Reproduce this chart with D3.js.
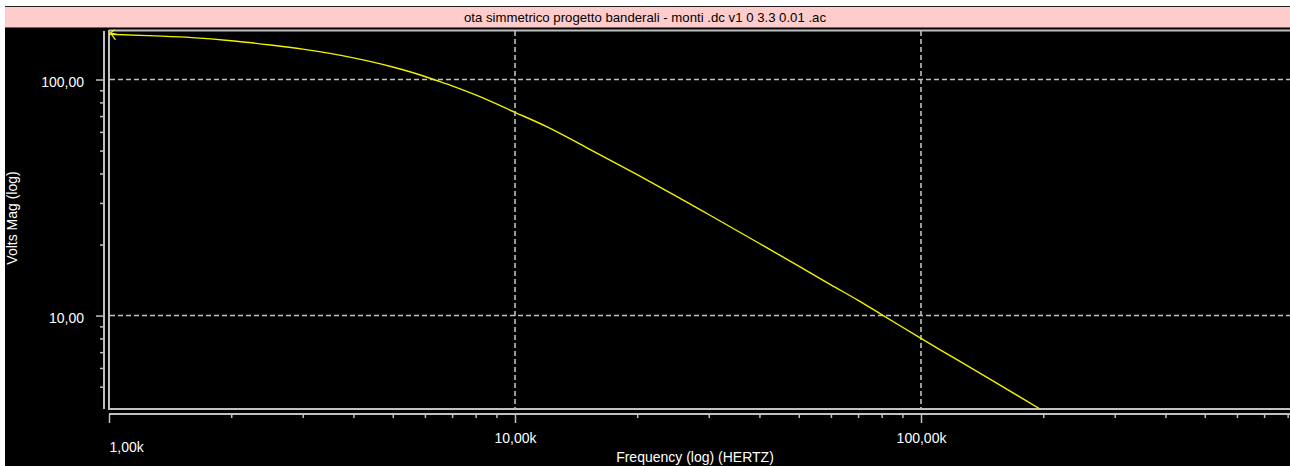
<!DOCTYPE html>
<html><head><meta charset="utf-8">
<script src="https://cdn.jsdelivr.net/npm/d3@7"></script>
<style>
body{margin:0;background:#fff;overflow:hidden}
svg{display:block}
text{font-family:"Liberation Sans",Arial,sans-serif}
</style>
</head><body>
<svg id="c" width="1290" height="466"></svg>
<script>
// ---- data ----
const title = "ota simmetrico progetto banderali - monti .dc v1 0 3.3 0.01 .ac";
const xLabel = "Frequency (log) (HERTZ)";
const yLabel = "Volts Mag (log)";

const freqs = [1000, 1300, 1600, 2000, 2500, 3000, 3500, 4000, 5000, 6000, 6300, 7000, 8000,
               10000, 12000, 15000, 20000, 25000, 30000, 40000, 50000, 60000, 70000, 80000,
               100000, 120000, 150000, 196500];
const mags  = [155.4, 153, 150.5, 146, 140, 134.5, 129, 123.5, 113, 103, 100, 94, 86,
               72.6, 63, 51.5, 39.5, 32, 26.8, 20.2, 16.2, 13.5, 11.6, 10.1,
               8.0, 6.65, 5.3, 4.02];

const xMajorTicks  = [1000, 10000, 100000];
const xMajorLabels = ["1,00k", "10,00k", "100,00k"];
const xMinorTicks  = [2000, 3000, 4000, 5000, 6000, 7000, 8000, 9000,
                      20000, 30000, 40000, 50000, 60000, 70000, 80000, 90000,
                      200000, 300000, 400000, 500000, 600000, 700000, 800000, 900000];
const yMajorTicks  = [10, 100];
const yMajorLabels = ["10,00", "100,00"];
const yMinorTicks  = [5, 6, 7, 8, 9, 20, 30, 40, 50, 60, 70, 80, 90];

// ---- layout ----
const W = 1290, H = 466;
const plotL = 109, plotT = 31, plotB = 409;
const svg = d3.select("#c");

const x = d3.scaleLog().domain([1000, 1e6]).range([plotL, plotL + 3 * 406]);
const y = d3.scaleLog().domain([4.02, 160.5]).range([plotB, plotT]);

const GRAY = "#c0c0c0";

// window chrome
svg.append("rect").attr("x", 0).attr("y", 0).attr("width", W).attr("height", H).attr("fill", "#fff");
svg.append("rect").attr("x", 5).attr("y", 28).attr("width", W - 5).attr("height", H - 28).attr("fill", "#000");
svg.append("rect").attr("x", 5).attr("y", 7).attr("width", W - 5).attr("height", 20).attr("fill", "#ffcccc");
svg.append("line").attr("x1", 5).attr("x2", W).attr("y1", 6.5).attr("y2", 6.5).attr("stroke", "#222");
svg.append("line").attr("x1", 5).attr("x2", W).attr("y1", 27.5).attr("y2", 27.5).attr("stroke", "#666");
svg.append("text").attr("x", 645).attr("y", 22).attr("text-anchor", "middle")
  .attr("font-size", 13.2).attr("fill", "#000").text(title);

// gridlines
const grid = svg.append("g").attr("stroke", GRAY).attr("stroke-dasharray", "5,3").attr("stroke-width", 1.6);
grid.selectAll("line.v").data(xMajorTicks.slice(1)).join("line")
  .attr("x1", d => x(d)).attr("x2", d => x(d)).attr("y1", plotT).attr("y2", plotB);
grid.selectAll("line.h").data(yMajorTicks).join("line")
  .attr("x1", plotL + 1).attr("x2", W).attr("y1", d => y(d)).attr("y2", d => y(d));

// plot frame
const frame = svg.append("g").attr("stroke", GRAY).attr("stroke-width", 2);
frame.append("line").attr("x1", plotL).attr("x2", plotL).attr("y1", plotT - 1).attr("y2", plotB + 1);
frame.append("line").attr("x1", plotL).attr("x2", W).attr("y1", plotT - 0.5).attr("y2", plotT - 0.5);
frame.append("line").attr("x1", plotL).attr("x2", W).attr("y1", plotB).attr("y2", plotB);

// curve
svg.append("clipPath").attr("id", "clip").append("rect")
  .attr("x", plotL).attr("y", plotT).attr("width", W - plotL).attr("height", plotB - plotT);
const pts = freqs.map((f, i) => [f, mags[i]]);
const line = d3.line().x(d => x(d[0])).y(d => y(d[1])).curve(d3.curveMonotoneX);
svg.append("path").attr("clip-path", "url(#clip)").attr("d", line(pts))
  .attr("fill", "none").attr("stroke", "#f2f200").attr("stroke-width", 1.4);
// start arrow marker
const ax = x(freqs[0]) + 1.5, ay = y(mags[0]) - 1.5;
svg.append("path").attr("d", `M${ax+4},${ay-3} L${ax},${ay} L${ax+5},${ay+7} M${ax},${ay} L${ax+6},${ay+1.5}`)
  .attr("fill", "none").attr("stroke", "#f2f200").attr("stroke-width", 1.2);

// Y axis (offset to the left)
const yAxisX = 104;
const yAx = svg.append("g").attr("transform", `translate(${yAxisX},0)`);
yAx.call(d3.axisLeft(y).tickValues(yMinorTicks).tickSize(4).tickFormat(""));
yAx.call(g => g.select(".domain").remove());
const yAxMaj = svg.append("g").attr("transform", `translate(${yAxisX},0)`)
  .call(d3.axisLeft(y).tickValues(yMajorTicks).tickSize(8).tickPadding(12)
    .tickFormat((d, i) => yMajorLabels[i]));
yAxMaj.select(".domain").remove();
svg.selectAll("g .tick line").attr("stroke", GRAY).attr("stroke-width", 1.5);
yAxMaj.selectAll("text").attr("fill", "#fff").attr("font-size", 14)
  .attr("font-family", "'Liberation Sans',Arial,sans-serif").attr("dy", "0.5em");
svg.append("line").attr("x1", yAxisX).attr("x2", yAxisX).attr("y1", plotT).attr("y2", plotB)
  .attr("stroke", GRAY).attr("stroke-width", 2);

// X axis (offset below)
const xAxisY = 414;
const xAxMin = svg.append("g").attr("transform", `translate(0,${xAxisY})`)
  .call(d3.axisBottom(x).tickValues(xMinorTicks).tickSize(4).tickFormat(""));
xAxMin.select(".domain").remove();
const xAxMaj = svg.append("g").attr("transform", `translate(0,${xAxisY})`)
  .call(d3.axisBottom(x).tickValues(xMajorTicks).tickSize(9).tickPadding(8)
    .tickFormat((d, i) => xMajorLabels[i]));
xAxMaj.select(".domain").remove();
svg.selectAll("g .tick line").attr("stroke", GRAY).attr("stroke-width", 1.5);
xAxMaj.selectAll("text").attr("fill", "#fff").attr("font-size", 14)
  .attr("font-family", "'Liberation Sans',Arial,sans-serif")
  .attr("text-anchor", (d, i) => i === 0 ? "start" : "middle")
  .attr("dy", (d, i) => i === 0 ? "1.5em" : "0.85em");
svg.append("line").attr("x1", plotL).attr("x2", W).attr("y1", xAxisY).attr("y2", xAxisY)
  .attr("stroke", GRAY).attr("stroke-width", 2);

// axis titles
svg.append("text").attr("x", 695).attr("y", 462).attr("text-anchor", "middle")
  .attr("font-size", 14).attr("fill", "#fff").text(xLabel);
svg.append("text").attr("transform", "translate(17,218) rotate(-90)").attr("text-anchor", "middle")
  .attr("font-size", 14).attr("fill", "#fff").text(yLabel);
</script>
</body></html>
